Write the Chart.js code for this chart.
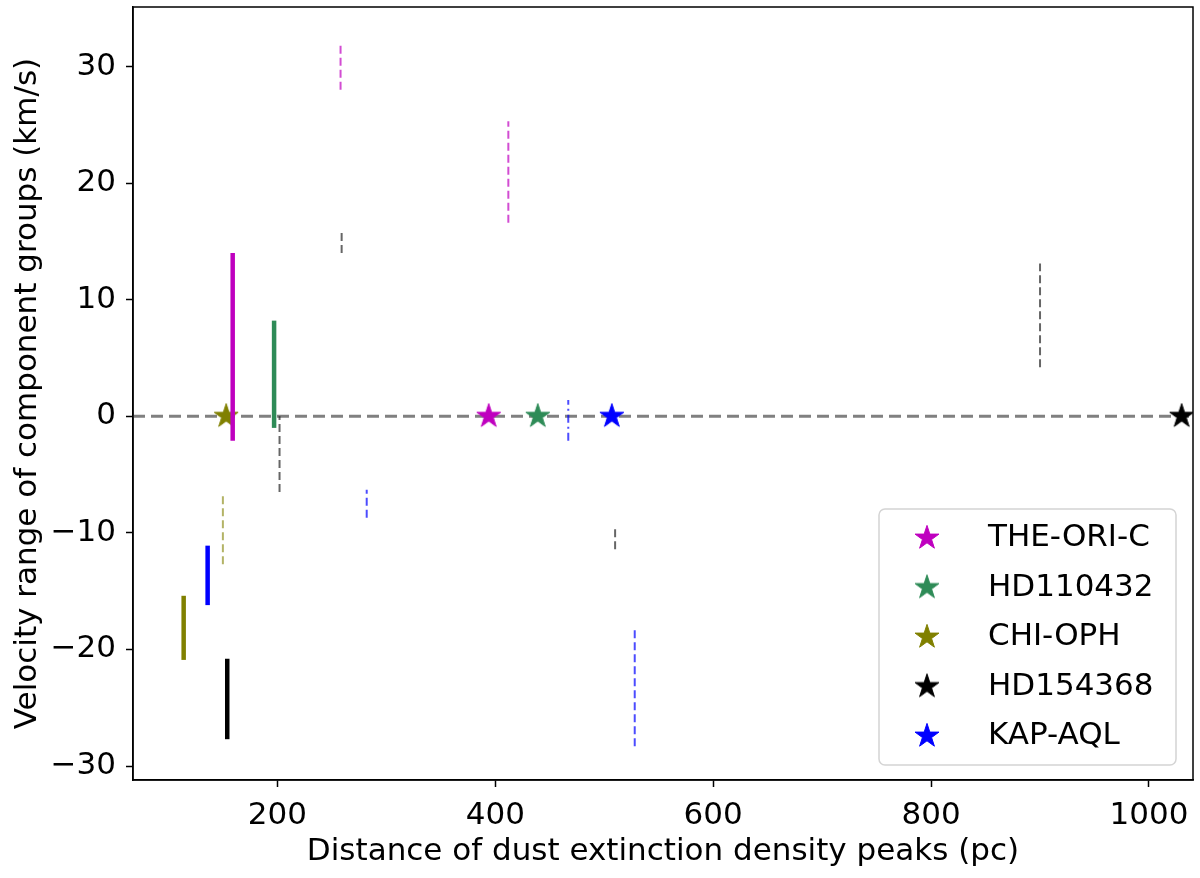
<!DOCTYPE html>
<html><head><meta charset="utf-8">
<script src="https://cdn.jsdelivr.net/npm/chart.js@4"></script>
<style>html,body{margin:0;padding:0;background:#fff}#wrap{width:1200px;height:878px}</style>
</head><body><div id="wrap"><canvas id="c" width="1200" height="878"></canvas></div>
<script>
// ---------- DATA ----------
const starNames = ['THE-ORI-C', 'HD110432', 'CHI-OPH', 'HD154368', 'KAP-AQL'];
const starDist = [394, 439, 153, 1030, 507];
const starVel = [0, 0, 0, 0, 0];
// solid segments (one per sightline, same order as starNames)
const solidDist = [159, 197, 114, 154, 136];
const solidLow = [-2.1, -1.0, -20.9, -27.7, -16.2];
const solidHigh = [14.0, 8.2, -15.4, -20.8, -11.1];
// dashed segments; owner = index into starNames
const dashOwner = [0, 0, 2, 3, 3, 3, 3, 4, 4, 4];
const dashDist = [258, 412, 150, 259, 202, 510, 900, 282, 528, 467];
const dashLow = [28.0, 16.6, -12.7, 14.0, -6.5, -11.4, 4.2, -8.7, -28.3, -2.1];
const dashHigh = [32.0, 25.3, -6.6, 15.8, 0.0, -9.6, 13.1, -6.3, -18.3, 1.4];
const xTicks = [200, 400, 600, 800, 1000];
const yTicks = [-30, -20, -10, 0, 10, 20, 30];
const xRange = [67.5, 1040.4];
const yRange = [-31.2, 35.1];

// ---------- STYLE ----------
const FONT = 'DejaVu Sans';
const FS = 31;
const ownerColors = ['#bf00bf', '#2e8b57', '#808000', '#000000', '#0000ff'];
const dashColors = ['rgba(191,0,191,0.7)', 'rgba(46,139,87,0.7)', 'rgba(128,128,0,0.6)', 'rgba(0,0,0,0.6)', 'rgba(0,0,255,0.7)'];
const dashDotSet = new Set([9]);

function makeStar(color, r) {
  const size = Math.ceil(r * 2 + 4);
  const c = document.createElement('canvas');
  c.width = size; c.height = size;
  const ctx = c.getContext('2d');
  const cx = size / 2, cy = size / 2;
  ctx.beginPath();
  for (let i = 0; i < 10; i++) {
    const rad = i % 2 === 0 ? r : r * 0.382;
    const a = -Math.PI / 2 + i * Math.PI / 5;
    ctx.lineTo(cx + rad * Math.cos(a), cy + rad * Math.sin(a));
  }
  ctx.closePath();
  ctx.fillStyle = color; ctx.fill();
  ctx.lineWidth = 1; ctx.strokeStyle = color; ctx.stroke();
  return c;
}
const starImgs = ownerColors.map(c => makeStar(c, 12.6));

const datasets = [];
// zero reference line
datasets.push({
  label: 'zero', data: [{x: xRange[0], y: 0}, {x: xRange[1], y: 0}],
  showLine: true, pointRadius: 0, borderColor: '#808080', borderWidth: 3,
  borderDash: [12, 6], order: 3, clip: 0
});
// stars
starNames.forEach((n, i) => {
  datasets.push({
    label: n, data: [{x: starDist[i], y: starVel[i]}],
    pointStyle: starImgs[i], pointRadius: 12, backgroundColor: ownerColors[i],
    borderColor: ownerColors[i], showLine: false, order: 2, clip: 0
  });
});
// solid segments
solidDist.forEach((d, i) => {
  datasets.push({
    label: 'solid ' + starNames[i], data: [{x: d, y: solidLow[i]}, {x: d, y: solidHigh[i]}],
    showLine: true, pointRadius: 0, borderColor: ownerColors[i], borderWidth: 4.5,
    borderCapStyle: 'butt', order: 1, clip: 0
  });
});
// dashed segments
dashDist.forEach((d, i) => {
  const o = dashOwner[i];
  datasets.push({
    label: 'dashed ' + starNames[o], data: [{x: d, y: dashLow[i]}, {x: d, y: dashHigh[i]}],
    showLine: true, pointRadius: 0, borderColor: dashColors[o], borderWidth: 2,
    borderDash: dashDotSet.has(i) ? [8, 4, 2, 4] : [8, 4], borderCapStyle: 'butt', order: 1, clip: 0
  });
});

const framePlugin = {
  id: 'frame',
  afterDatasetsDraw(chart) {
    const {ctx, chartArea: a} = chart;
    ctx.save();
    ctx.strokeStyle = '#000'; ctx.lineWidth = 1.5;
    ctx.strokeRect(a.left, a.top, a.right - a.left, a.bottom - a.top);
    ctx.restore();
  }
};

const legendPlugin = {
  id: 'boxLegend',
  afterDraw(chart) {
    const {ctx, chartArea: a} = chart;
    const bx = a.right - 314, by = a.bottom - 271, bw = 297, bh = 256, r = 6;
    ctx.save();
    ctx.beginPath();
    ctx.moveTo(bx + r, by);
    ctx.arcTo(bx + bw, by, bx + bw, by + bh, r);
    ctx.arcTo(bx + bw, by + bh, bx, by + bh, r);
    ctx.arcTo(bx, by + bh, bx, by, r);
    ctx.arcTo(bx, by, bx + bw, by, r);
    ctx.closePath();
    ctx.fillStyle = 'rgba(255,255,255,0.8)';
    ctx.fill();
    ctx.strokeStyle = '#d4d4d4'; ctx.lineWidth = 1.5; ctx.stroke();
    ctx.font = FS + 'px "' + FONT + '"';
    ctx.fillStyle = '#000';
    ctx.textBaseline = 'middle';
    ctx.textAlign = 'left';
    starNames.forEach((n, i) => {
      const y = by + 29 + i * 49.5;
      const img = starImgs[i];
      ctx.drawImage(img, bx + 48 - img.width / 2, y - img.height / 2);
      ctx.fillText(n, bx + 109, y);
    });
    ctx.restore();
  }
};

const axisFont = {family: FONT, size: FS};
new Chart(document.getElementById('c'), {
  type: 'scatter',
  data: {datasets},
  options: {
    responsive: false, animation: false,
    layout: {autoPadding: false, padding: {top: 7, right: 7, left: 0, bottom: 0}},
    plugins: {legend: {display: false}, tooltip: {enabled: false}},
    scales: {
      x: {
        type: 'linear', min: xRange[0], max: xRange[1],
        afterBuildTicks: s => { s.ticks = xTicks.map(v => ({value: v})); },
        afterFit: s => { s.height = 98; s.paddingLeft = 0; s.paddingRight = 0; },
        grid: {display: true, drawOnChartArea: false, drawTicks: true, tickLength: 7, tickWidth: 1.5, tickColor: '#000'},
        border: {display: true, color: '#000', width: 1.5},
        ticks: {color: '#000', font: axisFont, padding: 10, maxRotation: 0, autoSkip: false,
          callback: v => String(v)},
        title: {display: true, text: 'Distance of dust extinction density peaks (pc)', color: '#000', font: axisFont, padding: {top: 0, bottom: 7}}
      },
      y: {
        type: 'linear', min: yRange[0], max: yRange[1],
        afterBuildTicks: s => { s.ticks = yTicks.map(v => ({value: v})); },
        afterFit: s => { s.width = 133; s.paddingTop = 0; s.paddingBottom = 0; },
        grid: {display: true, drawOnChartArea: false, drawTicks: true, tickLength: 7, tickWidth: 1.5, tickColor: '#000'},
        border: {display: true, color: '#000', width: 1.5},
        ticks: {color: '#000', font: axisFont, padding: 10, autoSkip: false,
          callback: v => v < 0 ? '\u2212' + Math.abs(v) : String(v)},
        title: {display: true, text: 'Velocity range of component groups (km/s)', color: '#000', font: axisFont, padding: {top: 9, bottom: 0}}
      }
    }
  },
  plugins: [framePlugin, legendPlugin]
});
</script></body></html>
